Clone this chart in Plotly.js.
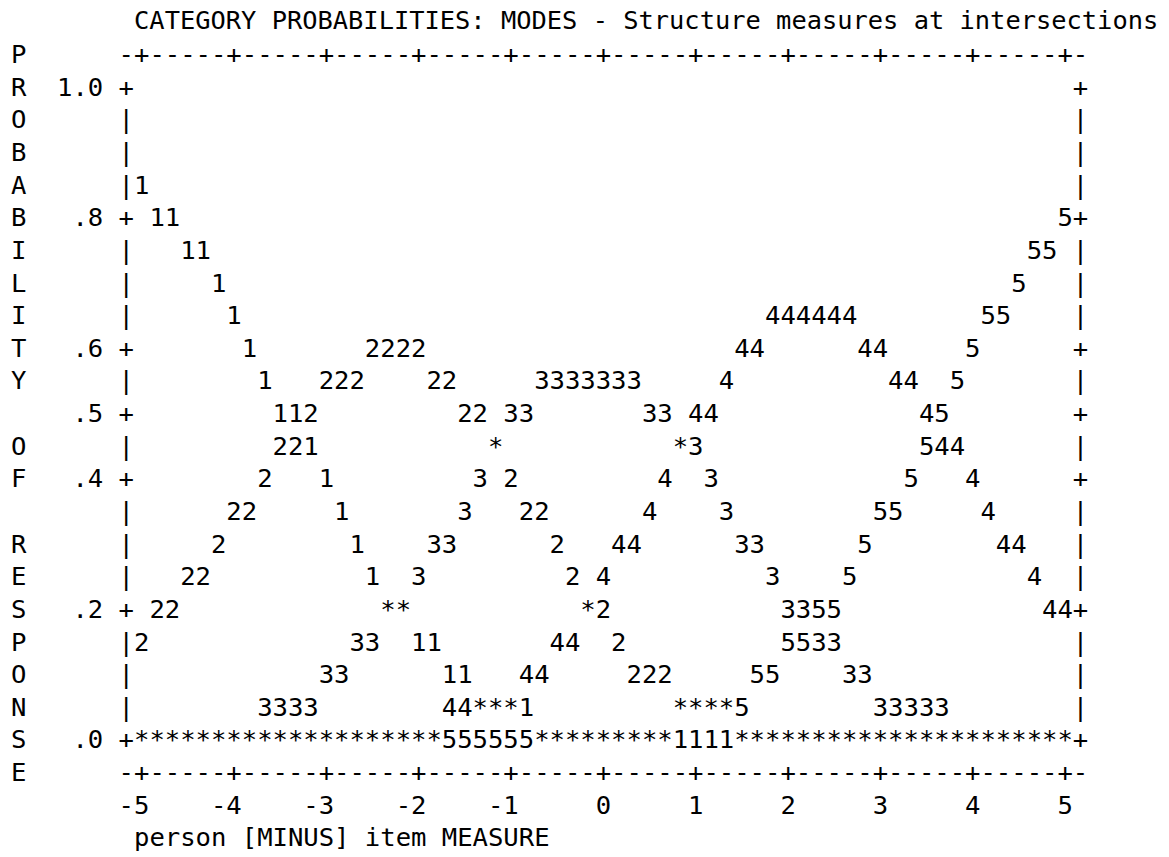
<!DOCTYPE html>
<html>
<head>
<meta charset="utf-8">
<script src="https://cdn.plot.ly/plotly-3.0.1.min.js"></script>
<style>
  html, body { margin: 0; padding: 0; background: #ffffff; }
  #chart { width: 1169px; height: 857px; }
</style>
</head>
<body>
<div id="chart"></div>
<script>
// Category probability curves, printed in the classic character-plot style:
// each column is one step of the measure, each row a 0.05 band of probability.

const measureMin = -5;
const measureMax = 5;
const stepsPerLogit = 6;   // six plot columns per logit
const probStep = 0.05;     // one plot row per 0.05 of probability

const categories = ['1', '2', '3', '4', '5'];

// Probability (to the nearest 0.05) of each category at every measure step, -5 .. +5
const probCat1 = [
  .85, .80, .80, .75, .75, .70, .65, .60, .55, .50, .50, .45, .40, .35, .30, .25,
  .20, .20, .15, .15, .10, .10, .05, .05, .05, .05,
  0, 0, 0, 0, 0, 0, 0, 0, 0, 0, 0, 0, 0, 0, 0, 0, 0, 0, 0, 0,
  0, 0, 0, 0, 0, 0, 0, 0, 0, 0, 0, 0, 0, 0, 0
];
const probCat2 = [
  .15, .20, .20, .25, .25, .30, .35, .35, .40, .45, .45, .50, .55, .55, .55,
  .60, .60, .60, .60, .55, .55, .50, .50, .45, .40, .35, .35, .30, .25, .20, .20,
  .15, .10, .10, .10, .05, .05, .05, .05,
  0, 0, 0, 0, 0, 0, 0, 0, 0, 0, 0, 0, 0, 0, 0, 0, 0, 0, 0, 0, 0, 0
];
const probCat3 = [
  0, 0, 0, 0, 0, 0, 0, 0,
  .05, .05, .05, .05, .10, .10, .15, .15, .20, .20, .25, .30, .30, .35, .40, .45,
  .50, .50, .55, .55, .55, .55, .55, .55, .55, .50, .50, .45, .45, .40, .35,
  .30, .30, .25, .20, .20, .15, .15, .10, .10, .05, .05, .05, .05, .05,
  0, 0, 0, 0, 0, 0, 0, 0
];
const probCat4 = [
  0, 0, 0, 0, 0, 0, 0, 0, 0, 0, 0, 0, 0, 0, 0, 0, 0, 0, 0, 0,
  .05, .05, .05, .05, .05, .10, .10, .15, .15, .20, .25, .30, .30, .35, .40, .45,
  .50, .50, .55, .60, .60, .65, .65, .65, .65, .65, .65, .60, .60, .55, .55,
  .50, .45, .45, .40, .35, .30, .30, .25, .20, .20
];
const probCat5 = [
  0, 0, 0, 0, 0, 0, 0, 0, 0, 0, 0, 0, 0, 0, 0, 0, 0, 0, 0, 0,
  0, 0, 0, 0, 0, 0, 0, 0, 0, 0, 0, 0, 0, 0, 0,
  .05, .05, .05, .05, .05, .10, .10, .15, .15, .20, .20, .25, .30, .35, .35,
  .40, .45, .50, .55, .60, .65, .65, .70, .75, .75, .80
];
const categoryProbs = [probCat1, probCat2, probCat3, probCat4, probCat5];

const xTickValues = [-5, -4, -3, -2, -1, 0, 1, 2, 3, 4, 5];
const xTickLabels = ['-5', '-4', '-3', '-2', '-1', '0', '1', '2', '3', '4', '5'];
const yTickValues = [1.0, 0.8, 0.6, 0.5, 0.4, 0.2, 0.0];
const yTickLabels = ['1.0', '.8', '.6', '.5', '.4', '.2', '.0'];

const chartTitle = 'CATEGORY PROBABILITIES: MODES - Structure measures at intersections';
const xTitle = 'person [MINUS] item MEASURE';
const yTitle = 'PROBABILITY OF RESPONSE';

// ---- page geometry of the character grid ----
const W = 1169, H = 857;
const COL_PX = 15.39;        // width of one character cell
const ROW_PX = 32.64;        // height of one text line
const FIRST_COL_PX = 141.72; // centre of the column holding measure -5
const TOP_ROW_PX = 89.3;     // centre of the row holding probability 1.0
const TITLE_PX = 20.5;       // centre line of the heading
const FONT = { family: '"DejaVu Sans Mono", "Liberation Mono", monospace', size: 25.6, color: '#000000' };
const TITLE_FONT = { family: FONT.family, size: 25.4, color: '#000000' };

const colUnit = 1 / stepsPerLogit;
const xRange = [measureMin - FIRST_COL_PX / COL_PX * colUnit,
                measureMin + (W - FIRST_COL_PX) / COL_PX * colUnit];
const yRange = [1 - (H - TOP_ROW_PX) / ROW_PX * probStep,
                1 + TOP_ROW_PX / ROW_PX * probStep];

// Grid cell helpers: column 0 = measure -5, row 0 = probability 1.0
const colX = c => measureMin + c * colUnit;
const rowY = r => 1 - r * probStep;
const probRow = p => Math.round((1 - p) / probStep);

const measures = categoryProbs[0].map((_, i) => measureMin + i / stepsPerLogit);
const lastCol = (measureMax - measureMin) * stepsPerLogit;

// ---- decorative characters: frame, tick labels, axis titles ----
const deco = { x: [], y: [], text: [] };
function put(str, col, row) {
  for (let i = 0; i < str.length; i++) {
    if (str[i] === ' ') continue;
    deco.x.push(colX(col + i));
    deco.y.push(rowY(row));
    deco.text.push(str[i]);
  }
}

const tickCols = xTickValues.map(v => Math.round((v - measureMin) * stepsPerLogit));
const tickRows = yTickValues.map(v => probRow(v));
const bottomRow = probRow(0);

// top and bottom border lines
for (let c = -1; c <= lastCol + 1; c++) {
  const ch = tickCols.includes(c) ? '+' : '-';
  put(ch, c, -1);
  put(ch, c, bottomRow + 1);
}
// left and right border lines
for (let r = 0; r <= bottomRow; r++) {
  const ch = tickRows.includes(r) ? '+' : '|';
  put(ch, -1, r);
  put(ch, lastCol + 1, r);
}
// x tick labels, right-aligned on their tick column
xTickLabels.forEach((lab, i) => put(lab, tickCols[i] - lab.length + 1, bottomRow + 2));
// y tick labels, right-aligned two cells left of the frame
yTickLabels.forEach((lab, i) => put(lab, -3 - lab.length + 1, tickRows[i]));
// axis titles
put(xTitle, 0, bottomRow + 3);
yTitle.split('').forEach((ch, i) => put(ch, -8, i - 1));

// ---- curves: a digit where one category sits alone, '*' where several share a cell ----
const cells = new Map();
categoryProbs.forEach((probs, k) => {
  probs.forEach((p, i) => {
    const key = i + '|' + probRow(p);
    if (!cells.has(key)) cells.set(key, { x: measures[i], y: p, cats: [] });
    cells.get(key).cats.push(k);
  });
});

const textTrace = (name, xs, ys, txt) => ({
  type: 'scatter', mode: 'text', name: name,
  x: xs, y: ys, text: txt,
  textposition: 'middle center',
  textfont: FONT,
  hoverinfo: 'skip', cliponaxis: false, showlegend: false
});

const traces = [textTrace('frame', deco.x, deco.y, deco.text)];
categories.forEach((cat, k) => {
  const pts = [...cells.values()].filter(c => c.cats.length === 1 && c.cats[0] === k);
  traces.push(textTrace('Category ' + cat, pts.map(c => c.x), pts.map(c => c.y), pts.map(() => cat)));
});
const shared = [...cells.values()].filter(c => c.cats.length > 1);
traces.push(textTrace('shared', shared.map(c => c.x), shared.map(c => c.y), shared.map(() => '*')));

// heading starts in the same column as measure -5
const titlePitch = TITLE_FONT.size * 0.602;
const titleLeftPx = FIRST_COL_PX - titlePitch / 2;
const layout = {
  width: W, height: H,
  margin: { l: 0, r: 0, t: 0, b: 0, pad: 0 },
  paper_bgcolor: '#ffffff', plot_bgcolor: '#ffffff',
  showlegend: false,
  title: {
    text: chartTitle,
    font: TITLE_FONT,
    xref: 'paper', yref: 'paper',
    x: titleLeftPx / W,
    y: 1 - TITLE_PX / H,
    xanchor: 'left', yanchor: 'middle'
  },
  xaxis: { range: xRange, visible: false, fixedrange: true },
  yaxis: { range: yRange, visible: false, fixedrange: true }
};

Plotly.newPlot('chart', traces, layout, { staticPlot: true, displayModeBar: false });
</script>
</body>
</html>
